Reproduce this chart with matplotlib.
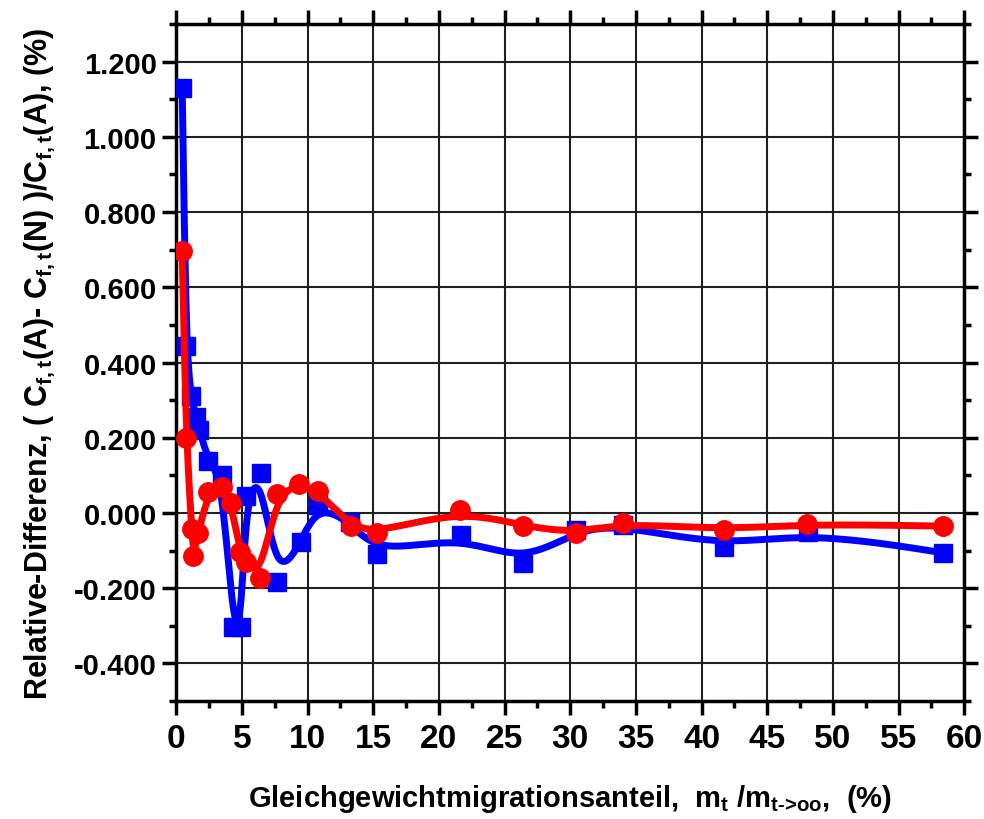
import numpy as np
import matplotlib
matplotlib.use("Agg")
import matplotlib.pyplot as plt
from matplotlib.ticker import MultipleLocator, FormatStrFormatter

# data
blue_x = [0.46, 0.76, 1.12, 1.52, 1.77, 2.46, 3.47, 4.33, 4.94, 5.32, 6.44, 7.66,
          9.5, 10.8, 13.25, 15.3, 21.67, 26.4, 30.47, 34.0, 41.67, 48.1, 58.4]
blue_y = [1.131, 0.444, 0.31, 0.256, 0.221, 0.137, 0.101, -0.303, -0.303, 0.046, 0.107, -0.184,
          -0.076, 0.021, -0.023, -0.11, -0.059, -0.134, -0.045, -0.032, -0.09, -0.05, -0.106]

red_x = [0.46, 0.76, 1.19, 1.32, 1.7, 2.46, 3.47, 4.18, 4.87, 5.32, 6.39, 7.66,
         9.38, 10.8, 13.28, 15.3, 21.6, 26.4, 30.47, 34.0, 41.67, 48.0, 58.4]
red_y = [0.697, 0.199, -0.043, -0.114, -0.052, 0.057, 0.070, 0.027, -0.103, -0.13, -0.174, 0.051,
         0.077, 0.059, -0.035, -0.054, 0.008, -0.035, -0.054, -0.026, -0.045, -0.029, -0.035]


def bspline(x, y, n=40):
    # uniform cubic B-spline, ends clamped (like Origin's B-spline connector)
    px = np.r_[x[0], x[0], x, x[-1], x[-1]]
    py = np.r_[y[0], y[0], y, y[-1], y[-1]]
    t = np.linspace(0, 1, n)
    b0 = (1 - t) ** 3 / 6
    b1 = (3 * t**3 - 6 * t**2 + 4) / 6
    b2 = (-3 * t**3 + 3 * t**2 + 3 * t + 1) / 6
    b3 = t**3 / 6
    xs, ys = [], []
    for i in range(len(px) - 3):
        xs.append(b0 * px[i] + b1 * px[i + 1] + b2 * px[i + 2] + b3 * px[i + 3])
        ys.append(b0 * py[i] + b1 * py[i + 1] + b2 * py[i + 2] + b3 * py[i + 3])
    return np.concatenate(xs), np.concatenate(ys)


plt.rcParams['font.family'] = ['Liberation Sans', 'DejaVu Sans']
plt.rcParams['font.weight'] = 'bold'
plt.rcParams['mathtext.fontset'] = 'custom'
plt.rcParams['mathtext.rm'] = 'Liberation Sans:bold'
plt.rcParams['mathtext.it'] = 'Liberation Sans:bold'
plt.rcParams['mathtext.default'] = 'regular'

fig = plt.figure(figsize=(9.84, 8.2), dpi=100)
ax = fig.add_axes([0.179, 0.1439, 0.801, 0.8256])

bx, by = bspline(np.array(blue_x), np.array(blue_y))
rx, ry = bspline(np.array(red_x), np.array(red_y))

ax.plot(bx, by, color='#0000ff', lw=5, zorder=3, solid_capstyle='round')
ax.plot(blue_x, blue_y, 's', color='#0000ff', ms=13, zorder=4)
ax.plot(rx, ry, color='#ff0000', lw=5, zorder=5, solid_capstyle='round')
ax.plot(red_x, red_y, 'o', color='#ff0000', ms=14, zorder=6)

ax.set_xlim(0, 60)
ax.set_ylim(-0.5, 1.3)
ax.xaxis.set_major_locator(MultipleLocator(5))
ax.xaxis.set_minor_locator(MultipleLocator(2.5))
ax.yaxis.set_major_locator(MultipleLocator(0.2))
ax.yaxis.set_minor_locator(MultipleLocator(0.1))
ax.yaxis.set_major_formatter(FormatStrFormatter('%.3f'))

ax.grid(True, which='major', color='#202020', lw=1.5, zorder=1)
for s in ax.spines.values():
    s.set_linewidth(2.5)
ax.tick_params(which='both', direction='out', width=2.5, top=True, right=True,
               labeltop=False, labelright=False)
ax.tick_params(which='major', length=10)
ax.tick_params(which='minor', length=5)
ax.tick_params(axis='y', labelsize=21, pad=4)
ax.tick_params(axis='x', labelsize=24, pad=6)

ax.set_ylabel(r'Relative-Differenz, ( C$_{f,t}$(A)- C$_{f,t}$(N) )/C$_{f,t}$(A), (%)',
              fontsize=22, fontweight='bold', labelpad=12)
ax.set_xlabel(r'Gleichgewichtmigrationsanteil,  m$_{t}$ /m$_{\text{t->oo}}$,  (%)',
              fontsize=21, fontweight='bold', labelpad=20)

fig.savefig('out.png', dpi=100)
